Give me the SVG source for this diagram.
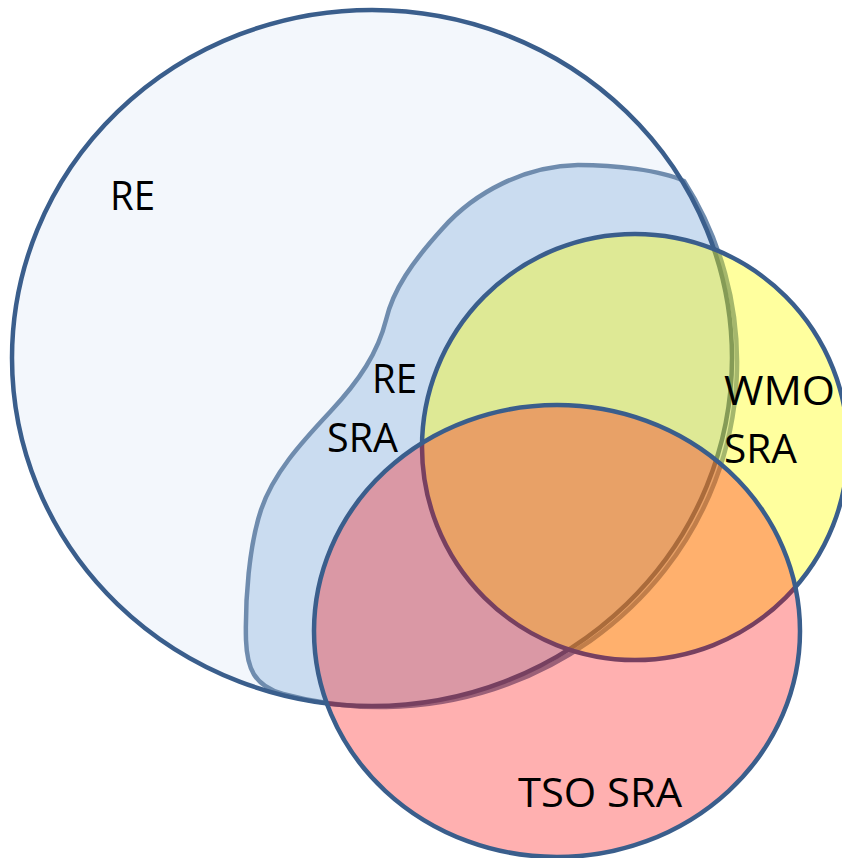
<svg xmlns="http://www.w3.org/2000/svg" width="842" height="858" viewBox="0 0 842 858">
<style>
.lbl{font-family:"Open Sans","Noto Sans","Liberation Sans",sans-serif;font-size:40px;fill:#000}
.edge{stroke:#3a5e8c;stroke-width:4.5}
</style>
<rect width="842" height="858" fill="#ffffff"/>
<g id="re">
<ellipse cx="372" cy="358" rx="360" ry="348" fill="#f3f7fc"/>
</g>
<g id="re-sra">
<path d="M684,181 C660,170 615,165 578,165 C525,166 475,192 443,228 C412,262 393,290 386,320 C378,352 360,380 330,412 C300,444 273,474 261,510 C249,546 245,600 246,640 C247,668 254,686 283,694 A357 345 0 0 0 684,181 Z" fill="#cadcf0" stroke="#6f8cae" stroke-width="4.5" stroke-linejoin="round"/>
</g>
<g id="re-outline">
<ellipse cx="372" cy="358" rx="360" ry="348" fill="none" class="edge"/>
</g>
<g id="wmo-sra">
<circle cx="635" cy="447" r="213" fill="#ffff00" fill-opacity="0.38" class="edge"/>
</g>
<g id="tso-sra">
<ellipse cx="557" cy="631" rx="243" ry="226" fill="#ff0000" fill-opacity="0.31" class="edge"/>
</g>
<g id="connectors"></g>
<g id="labels">
<text class="lbl" x="110" y="210" textLength="45" lengthAdjust="spacingAndGlyphs">RE</text>
<text class="lbl" x="372" y="393" textLength="45" lengthAdjust="spacingAndGlyphs">RE</text>
<text class="lbl" x="327" y="452" textLength="71" lengthAdjust="spacingAndGlyphs">SRA</text>
<text class="lbl" x="724" y="405" textLength="111" lengthAdjust="spacingAndGlyphs">WMO</text>
<text class="lbl" x="724" y="463" textLength="73" lengthAdjust="spacingAndGlyphs">SRA</text>
<text class="lbl" x="518" y="807" textLength="164" lengthAdjust="spacingAndGlyphs">TSO SRA</text>
</g>
</svg>
